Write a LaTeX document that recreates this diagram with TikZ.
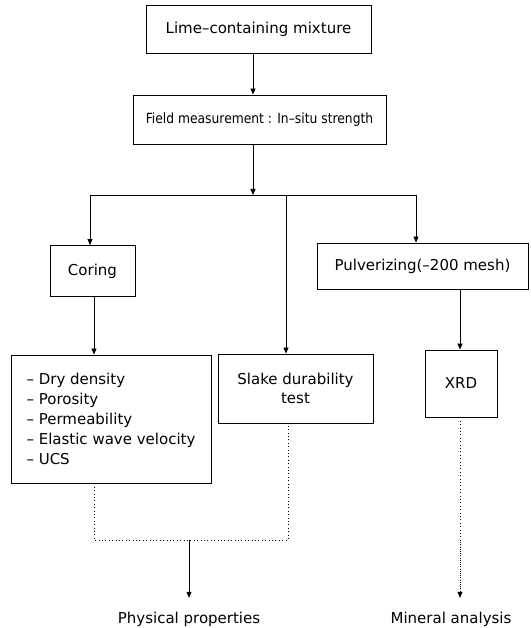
\documentclass[tikz,border=0pt]{standalone}
\usepackage{fontspec}
\setmainfont{DejaVu Sans}
\newfontfamily\condfont[FakeStretch=0.88]{DejaVu Sans}
\usetikzlibrary{arrows.meta}
\begin{document}
\begin{tikzpicture}[x=1pt,y=-1pt,
  box/.style={draw, line width=0.9pt, inner sep=0pt, align=center, font=\fontsize{15}{19.5}\selectfont},
  lbl/.style={inner sep=0pt, font=\fontsize{15}{19}\selectfont, text height=11pt, text depth=3pt},
  arr/.style={line width=0.8pt, -{Triangle[length=6pt,width=5pt]}},
  ln/.style={line width=0.8pt},
  dot/.style={line width=1pt, dash pattern=on 1pt off 2.4pt},
  densedot/.style={line width=1pt, dash pattern=on 1pt off 1.2pt}]
\useasboundingbox (0,0) rectangle (530,628);
\fill[white] (0,0) rectangle (530,628);

\node[box, minimum width=225pt, minimum height=48pt] (mix) at (258.5,29) {Lime–containing mixture};
\node[box, minimum width=253pt, minimum height=49pt, font=\condfont\fontsize{14}{17}\selectfont] (field) at (259.5,119.5) {Field measurement : In–situ strength};
\node[box, minimum width=85pt, minimum height=51pt] (coring) at (92.5,271) {Coring};
\node[box, minimum width=211pt, minimum height=46pt] (pulv) at (422.5,266) {Pulverizing(–200 mesh)};
\node[box, minimum width=200pt, minimum height=128pt, align=left, font=\fontsize{15}{20}\selectfont] (props) at (111,419) {– Dry density\\– Porosity\\– Permeability\\– Elastic wave velocity\\– UCS};
\node[box, minimum width=155pt, minimum height=69pt] (slake) at (295.5,388.5) {Slake durability\\test};
\node[box, minimum width=72pt, minimum height=67pt] (xrd) at (461,383.5) {XRD};
\node[lbl, anchor=base] (phys) at (189,623) {Physical properties};
\node[lbl, anchor=base] (mineral) at (451,623) {Mineral analysis};

\coordinate (jt) at (253,195);
\coordinate (jl) at (90,195);
\coordinate (jm) at (286,195);
\coordinate (jr) at (416,195);
\coordinate (cx) at (94,0);
\coordinate (px) at (460,0);
\coordinate (dl) at (94,540);
\coordinate (dm) at (189,540);
\coordinate (dr) at (288,540);
\coordinate (mx) at (460,540);

\draw[arr] (mix.south -| jt) -- (field.north -| jt);
\draw[arr] (field.south -| jt) -- (jt);
\draw[ln] (jl) -- (jr);
\draw[arr] (jl) -- (coring.north -| jl);
\draw[arr] (jm) -- (slake.north -| jm);
\draw[arr] (jr) -- (pulv.north -| jr);
\draw[arr] (coring.south -| cx) -- (props.north -| cx);
\draw[arr] (pulv.south -| px) -- (xrd.north -| px);

\draw[dot] (props.south -| dl) -- (dl) -- (dr) -- (slake.south -| dr);
\draw[arr, shorten >=14pt] (dm) -- (phys.north);
\draw[dot] (xrd.south -| mx) -- (mx);
\draw[densedot, arr, shorten >=14pt] (mx) -- (mineral.north -| mx);
\end{tikzpicture}
\end{document}
